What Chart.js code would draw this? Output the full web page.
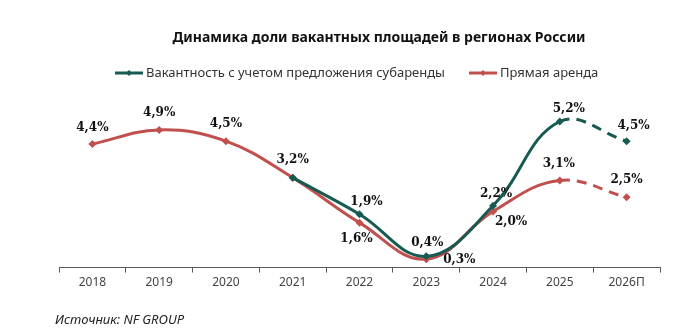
<!DOCTYPE html>
<html>
<head>
<meta charset="utf-8">
<script src="https://cdn.jsdelivr.net/npm/chart.js@4/dist/chart.umd.min.js"></script>
<style>
  html, body { margin: 0; padding: 0; background: #fff; }
  #wrap { position: relative; width: 697px; height: 333px; }
  #source { position: absolute; left: 55px; top: 310px; font: italic 13px "Noto Sans", sans-serif; color: #222; }
</style>
</head>
<body>
<div id="wrap">
  <canvas id="chart-one" width="697" height="333"></canvas>
  <div id="source">Источник: NF GROUP</div>
</div>
<script>
const years = ["2018", "2019", "2020", "2021", "2022", "2023", "2024", "2025", "2026П"];
const subleaseVacancy = [null, null, null, 3.2, 1.9, 0.4, 2.2, 5.2, 4.5];
const directVacancy = [4.4, 4.9, 4.5, 3.2, 1.6, 0.3, 2.0, 3.1, 2.5];
const seriesNames = ["Вакантность с учетом предложения субаренды", "Прямая аренда"];

const GREEN = "#175a51";
const RED = "#c0504d";

// where to put each value label relative to its point [dx, dy]
const greenLabelPos = [null, null, null, null, [7, -12], [1, -13], [3, -12], [9, -13], [7, -15]];
const redLabelPos = [[0, -16], [0, -17], [0, -17], [0, -18], [-3, 16], [33, 1], [18, 10], [-1, -17], [0, -17]];

function fmt(v) {
    return v.toFixed(1).replace(".", ",") + "%";
}

const dashLast = {
    borderDash: ctx => ctx.p1DataIndex === years.length - 1 ? [10, 7] : undefined
};

const extras = {
    id: "extras",
    afterDatasetsDraw(chart) {
        const c = chart.ctx;
        c.save();
        // title
        c.fillStyle = "#111";
        c.font = "bold 14px 'Noto Sans', sans-serif";
        c.textAlign = "center";
        c.textBaseline = "middle";
        c.fillText("Динамика доли вакантных площадей в регионах России", 379, 38);

        // legend
        const items = [[115, seriesNames[0], GREEN], [469, seriesNames[1], RED]];
        c.font = "13px 'Noto Sans', sans-serif";
        c.textAlign = "left";
        items.forEach(([x, txt, col]) => {
            c.strokeStyle = col;
            c.lineWidth = 3;
            c.beginPath();
            c.moveTo(x, 73);
            c.lineTo(x + 28, 73);
            c.stroke();
            c.fillStyle = col;
            c.beginPath();
            c.moveTo(x + 14, 70); c.lineTo(x + 17, 73); c.lineTo(x + 14, 76); c.lineTo(x + 11, 73);
            c.closePath();
            c.fill();
            c.fillStyle = "#333";
            c.fillText(txt, x + 31, 73);
        });

        // value labels
        c.font = "bold 12px 'DejaVu Serif', serif";
        c.textAlign = "center";
        c.fillStyle = "#111";
        [[0, subleaseVacancy, greenLabelPos], [1, directVacancy, redLabelPos]].forEach(([di, vals, pos]) => {
            const meta = chart.getDatasetMeta(di);
            vals.forEach((v, i) => {
                if (v === null || !pos[i]) return;
                const el = meta.data[i];
                c.fillText(fmt(v), el.x + pos[i][0], el.y + pos[i][1]);
            });
        });
        c.restore();
    }
};

const ctx = document.getElementById("chart-one");

const chart = new Chart(ctx, {
    type: "line",
    data: {
        labels: years,
        datasets: [
            {
                label: seriesNames[0],
                data: subleaseVacancy,
                borderColor: GREEN,
                backgroundColor: GREEN,
                borderWidth: 3,
                tension: 0.4,
                pointStyle: "rectRot",
                pointRadius: 4,
                pointBorderWidth: 0,
                segment: dashLast
            },
            {
                label: seriesNames[1],
                data: directVacancy,
                borderColor: RED,
                backgroundColor: RED,
                borderWidth: 3,
                tension: 0.4,
                pointStyle: "rectRot",
                pointRadius: 4,
                pointBorderWidth: 0,
                segment: dashLast
            }
        ]
    },
    options: {
        responsive: false,
        animation: false,
        layout: { padding: { left: 59, right: 37, top: 99, bottom: 40 } },
        plugins: {
            legend: { display: false },
            tooltip: { enabled: false }
        },
        scales: {
            x: {
                offset: true,
                grid: {
                    offset: true,
                    drawOnChartArea: false,
                    tickLength: 5,
                    color: "#595959"
                },
                border: { color: "#595959", width: 1 },
                ticks: {
                    color: "#444",
                    font: { family: "'Noto Sans', sans-serif", size: 12 },
                    padding: 3
                }
            },
            y: {
                display: false,
                min: 0,
                max: 6
            }
        }
    },
    plugins: [extras]
});
</script>
</body>
</html>
